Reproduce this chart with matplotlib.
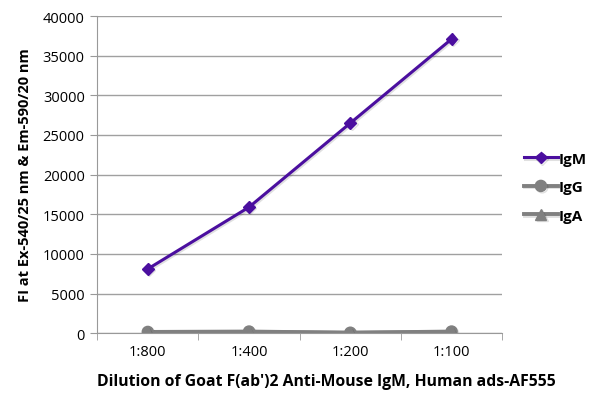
import numpy as np
import matplotlib.pyplot as plt
import matplotlib.patheffects as pe

plt.rcParams['font.family'] = ['Open Sans', 'DejaVu Sans']

dilutions = ['1:800', '1:400', '1:200', '1:100']
igm = [8100, 15900, 26500, 37100]
igg = [150, 200, 50, 200]
iga = [100, 150, 50, 150]

purple = '#4b0f9f'
grey = '#808080'

fig = plt.figure(figsize=(6, 4.06), dpi=100)
ax = fig.add_axes([0.162, 0.177, 0.675, 0.781])

x = np.arange(len(dilutions))
shadow = [pe.SimpleLineShadow(offset=(1, -1), alpha=0.12), pe.Normal()]
ax.plot(x, igm, color=purple, lw=2.2, marker='D', ms=6, label='IgM', path_effects=shadow)
ax.plot(x, igg, color=grey, lw=2.8, marker='o', ms=8, label='IgG', path_effects=shadow)
ax.plot(x, iga, color=grey, lw=2.8, marker='^', ms=8, label='IgA', path_effects=shadow)

ax.set_xlim(-0.5, 3.5)
ax.set_ylim(0, 40000)
ax.set_yticks(np.arange(0, 40001, 5000))
ax.set_xticks(x)
ax.set_xticklabels(dilutions)
ax.set_xticks(np.arange(-0.5, 3.6, 1), minor=True)
ax.tick_params(axis='x', which='major', length=0, pad=8, labelsize=10.5)
ax.tick_params(axis='x', which='minor', length=5, color='#999999', direction='out')
ax.tick_params(axis='y', length=5, color='#999999', labelsize=10.5, pad=4)
ax.grid(axis='y', color='#a0a0a0', lw=1)
ax.set_axisbelow(True)
for s in ['top', 'right']:
    ax.spines[s].set_visible(False)
for s in ['left', 'bottom']:
    ax.spines[s].set_color('#999999')

ax.set_xlabel("Dilution of Goat F(ab')2 Anti-Mouse IgM, Human ads-AF555",
              fontsize=11.3, fontweight='bold')
ax.xaxis.set_label_coords(0.565, -0.125)
ax.set_ylabel('FI at Ex-540/25 nm & Em-590/20 nm', fontsize=10.5, fontweight='bold', labelpad=8)

ax.legend(loc='center left', bbox_to_anchor=(1.02, 0.46), frameon=False,
          prop={'weight': 'bold', 'size': 11}, handlelength=2.2, labelspacing=0.95,
          handletextpad=0.05)

fig.savefig('out.png', dpi=100)
